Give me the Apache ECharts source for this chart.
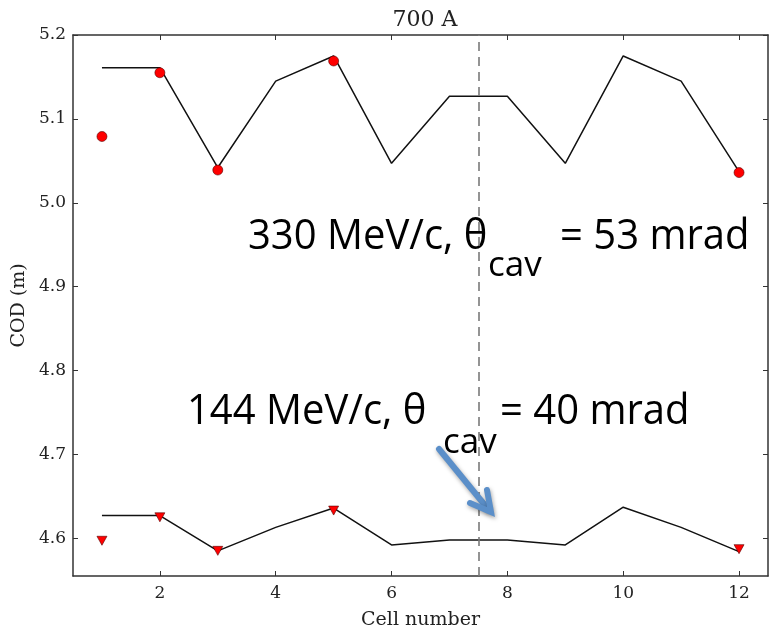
<!DOCTYPE html>
<html>
<head>
<meta charset="utf-8">
<script src="https://cdn.jsdelivr.net/npm/echarts@6/dist/echarts.min.js"></script>
<style>
html,body{margin:0;padding:0;background:#fff;}
#chart{width:769px;height:627px;}
</style>
</head>
<body>
<div id="chart"></div>
<script>
// ---- data ----
const cells = [1, 2, 3, 4, 5, 6, 7, 8, 9, 10, 11, 12];
const simHigh = [5.161, 5.161, 5.042, 5.145, 5.175, 5.047, 5.127, 5.127, 5.047, 5.175, 5.145, 5.037];
const simLow = [4.627, 4.627, 4.585, 4.613, 4.636, 4.592, 4.598, 4.598, 4.592, 4.637, 4.613, 4.584];
const measCells = [1, 2, 3, 5, 12];
const measHigh = [5.079, 5.155, 5.039, 5.169, 5.036];
const measLow = [4.597, 4.625, 4.585, 4.633, 4.587];
const xTicks = [2, 4, 6, 8, 10, 12];
const yTicks = [4.6, 4.7, 4.8, 4.9, 5.0, 5.1, 5.2];
const dividerCell = 7.5;
const titleText = '700 A';
const xName = 'Cell number';
const yName = 'COD (m)';

const serif = '"DejaVu Serif", serif';
const sans = '"Open Sans", sans-serif';
const axisColor = '#333';

function pairs(xs, ys) { return xs.map((x, i) => [x, ys[i]]); }

const chart = echarts.init(document.getElementById('chart'), null, {renderer: 'canvas'});

const xBase = {
  type: 'value', min: 0.5, max: 12.5,
  axisLine: {show: true, onZero: false, lineStyle: {color: axisColor, width: 1.5}},
  splitLine: {show: false},
  axisTick: {show: true, inside: true, length: 5, customValues: xTicks, lineStyle: {color: axisColor, width: 1}},
};
const yBase = {
  type: 'value', min: 4.555, max: 5.2,
  axisLine: {show: true, onZero: false, lineStyle: {color: axisColor, width: 1.5}},
  splitLine: {show: false},
  axisTick: {show: true, inside: true, length: 5, customValues: yTicks, lineStyle: {color: axisColor, width: 1}},
};

const option = {
  animation: false,
  backgroundColor: '#fff',
  title: {
    text: titleText, left: 420, top: 4, textAlign: 'center',
    textStyle: {fontFamily: serif, fontSize: 22, fontWeight: 'normal', color: '#222'}
  },
  grid: {left: 73, top: 35, right: 1, bottom: 51, containLabel: false, outerBoundsMode: 'none'},
  xAxis: [
    Object.assign({}, xBase, {
      position: 'bottom',
      name: xName, nameLocation: 'middle', nameGap: 35,
      nameTextStyle: {fontFamily: serif, fontSize: 19, color: '#222'},
      axisLabel: {show: true, customValues: xTicks, margin: 9, fontFamily: serif, fontSize: 17, color: '#222'}
    }),
    Object.assign({}, xBase, {position: 'top', axisLabel: {show: false}})
  ],
  yAxis: [
    Object.assign({}, yBase, {
      position: 'left',
      name: yName, nameLocation: 'middle', nameGap: 43,
      nameTextStyle: {fontFamily: serif, fontSize: 19, color: '#222'},
      axisLabel: {show: true, customValues: yTicks, margin: 7, fontFamily: serif, fontSize: 17, color: '#222',
        formatter: v => v.toFixed(1)}
    }),
    Object.assign({}, yBase, {position: 'right', axisLabel: {show: false}})
  ],
  series: [
    {
      type: 'line', data: pairs(cells, simHigh), showSymbol: false, symbol: 'none',
      lineStyle: {color: '#111', width: 1.5}, z: 2,
      markLine: {
        silent: true, symbol: 'none', label: {show: false},
        lineStyle: {color: '#7a7a7a', type: [9, 6], width: 1.6},
        data: [{xAxis: dividerCell}]
      }
    },
    {
      type: 'line', data: pairs(cells, simLow), showSymbol: false, symbol: 'none',
      lineStyle: {color: '#111', width: 1.5}, z: 2
    },
    {
      type: 'scatter', data: pairs(measCells, measHigh), symbol: 'circle', symbolSize: 10,
      itemStyle: {color: '#ff0000', borderColor: '#550000', borderWidth: 0.6, opacity: 1}, z: 3
    },
    {
      type: 'scatter', data: pairs(measCells, measLow), symbol: 'triangle', symbolRotate: 180, symbolSize: [10, 9],
      itemStyle: {color: '#ff0000', borderColor: '#550000', borderWidth: 0.6, opacity: 1}, z: 3
    }
  ],
  graphic: [
    // upper annotation
    {type: 'text', left: 248, top: 216, scaleY: 1.06, style: {text: '330 MeV/c, θ', font: '40px ' + sans, fill: '#000'}},
    {type: 'text', left: 488, top: 249, style: {text: 'cav', font: '35px ' + sans, fill: '#000'}},
    {type: 'text', left: 560, top: 216, scaleY: 1.06, style: {text: '= 53 mrad', font: '40px ' + sans, fill: '#000'}},
    // lower annotation
    {type: 'text', left: 187, top: 391, scaleY: 1.06, style: {text: '144 MeV/c, θ', font: '40px ' + sans, fill: '#000'}},
    {type: 'text', left: 443, top: 426, style: {text: 'cav', font: '35px ' + sans, fill: '#000'}},
    {type: 'text', left: 500, top: 391, scaleY: 1.06, style: {text: '= 40 mrad', font: '40px ' + sans, fill: '#000'}},
    // arrow
    {type: 'polyline', shape: {points: [[439, 449], [488, 509]]},
      style: {stroke: '#5b8fc9', lineWidth: 6, lineCap: 'round', shadowBlur: 4, shadowColor: 'rgba(0,0,0,0.35)', shadowOffsetX: 1, shadowOffsetY: 2}, z: 10},
    {type: 'polyline', shape: {points: [[470, 503], [491, 512], [487, 490]]},
      style: {stroke: '#5b8fc9', lineWidth: 6, lineCap: 'round', lineJoin: 'miter', shadowBlur: 4, shadowColor: 'rgba(0,0,0,0.35)', shadowOffsetX: 1, shadowOffsetY: 2}, z: 10}
  ]
};
chart.setOption(option);
</script>
</body>
</html>
